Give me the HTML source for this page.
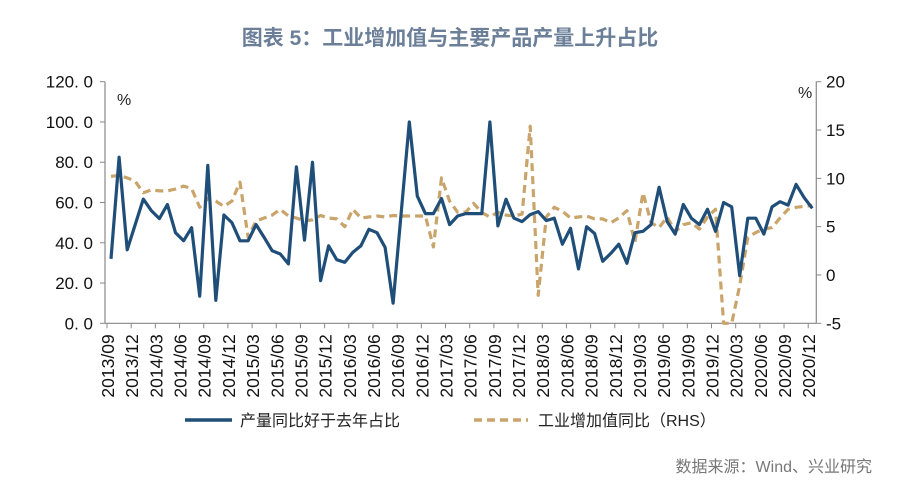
<!DOCTYPE html>
<html><head><meta charset="utf-8">
<style>
body{margin:0;background:#fff;width:900px;height:488px;overflow:hidden;font-family:"Liberation Sans","Noto Sans CJK SC",sans-serif;}
svg text{font-family:"Liberation Sans","Noto Sans CJK SC",sans-serif;}
</style></head>
<body>
<svg id="chart" width="900" height="488" viewBox="0 0 900 488" xmlns="http://www.w3.org/2000/svg">
<text x="450" y="45" text-anchor="middle" font-size="21" font-weight="bold" fill="#6b7f98">图表 5：工业增加值与主要产品产量上升占比</text>
<text x="117" y="105" font-size="16" fill="#222">%</text>
<text x="798" y="98" font-size="16" fill="#222">%</text>
<g id="axes"></g>
<g id="series"></g>
<g>
<line x1="185" y1="420" x2="232" y2="420" stroke="#1f4e79" stroke-width="3.5"/>
<text x="240" y="426" font-size="16" fill="#222">产量同比好于去年占比</text>
<line x1="474" y1="420" x2="528" y2="420" stroke="#c9a46b" stroke-width="3.5" stroke-dasharray="8,5"/>
<text x="538" y="426" font-size="16" fill="#222">工业增加值同比（RHS）</text>
</g>
<text x="872" y="472" text-anchor="end" font-size="16" fill="#777">数据来源：Wind、兴业研究</text>
</svg>
<script>
const blueValues=[32,82.5,36.5,49,61.7,56,52,59,45,41,47.5,13.5,78.5,11.4,53.8,50,41,41,49,42.6,36,34.4,29.5,77.7,41.3,80,21.2,38.5,31.6,30.3,35.2,38.5,46.7,45,37.7,10,55,100,63.2,54.5,54.5,62,49,53.3,54.5,54.5,54.5,100,48.4,61.6,52.2,50.5,54,55.5,51,52.2,39.3,47.2,27,48,44.6,30.8,34.7,39.3,29.8,45,45.7,49,67.6,50.5,44.3,59,52.2,49,56.6,45.7,60,57.8,23.7,52.2,52.2,44.3,57.8,60.4,58.7,69,62.4,57.1];
const orangeValues=[10.2,10.3,10.05,9.7,8.5,8.8,8.7,8.7,8.9,9.2,8.95,7.0,7.9,7.65,7.1,7.65,9.6,3.9,5.6,5.9,6.2,6.8,6.1,5.9,5.6,5.7,6.15,5.9,5.8,5.0,6.8,5.9,6.0,6.1,6.0,6.15,6.1,6.1,6.1,6.1,2.9,10.05,7.65,6.5,6.5,7.4,6.45,6.0,6.5,6.2,6.1,6.3,15.4,-2.1,6.0,7.0,6.6,5.9,6.0,6.1,5.8,5.8,5.4,5.9,6.65,3.4,8.5,5.4,4.9,6.0,4.5,5.2,5.4,4.75,6.0,6.8,-5,-5,-1.1,3.9,4.4,4.75,4.9,5.9,6.8,7.0,7.1,7.2];
const leftTicks=[0,20,40,60,80,100,120];
const leftTickLabels=["0. 0","20. 0","40. 0","60. 0","80. 0","100. 0","120. 0"];
const rightTicks=[-5,0,5,10,15,20];
const startYear=2013,startMonth=9;
const X0=107,STEP=8.06,Y0=323.3,YT=81.7;
const n=blueValues.length;
function xPos(i){return X0+STEP*(i+0.5);}
function yL(v){return Y0-(v-0)/(120-0)*(Y0-YT);}
function yR(v){return Y0-(v+5)/(25)*(Y0-YT);}
const NS="http://www.w3.org/2000/svg";
function mk(tag,attrs,parent){const e=document.createElementNS(NS,tag);for(const k in attrs)e.setAttribute(k,attrs[k]);parent.appendChild(e);return e;}
const axes=document.getElementById('axes');
const XR=X0+STEP*n;
let a=mk('line',{x1:X0-2,y1:YT,x2:X0-2,y2:Y0,stroke:'#888','stroke-width':1.2},axes);


a=mk('line',{x1:XR,y1:YT,x2:XR,y2:Y0,stroke:'#888','stroke-width':1.2},axes);


a=mk('line',{x1:X0-2,y1:Y0,x2:XR,y2:Y0,stroke:'#888','stroke-width':1.2},axes);


leftTicks.forEach((v,k)=>{const y=yL(v);
 mk('line',{x1:X0-7,y1:y,x2:X0-2,y2:y,stroke:'#888'},axes);
 const t=mk('text',{x:93,y:y+6,'text-anchor':'end','font-size':17,fill:'#111'},axes);t.textContent=leftTickLabels[k];
 
 });
rightTicks.forEach(v=>{const y=yR(v);
 mk('line',{x1:XR,y1:y,x2:XR+5,y2:y,stroke:'#888'},axes);
 const t=mk('text',{x:826,y:y+6,'font-size':17,fill:'#111'},axes);t.textContent=String(v);
 
 });
for(let i=0;i<n;i+=3){const x=X0+STEP*i;
 mk('line',{x1:x,y1:Y0,x2:x,y2:Y0+5,stroke:'#888'},axes);
 let m=startMonth-1+i;const yr=startYear+Math.floor(m/12);const mo=(m%12)+1;
 const lbl=yr+'/'+(mo<10?'0':'')+mo;
 const t=mk('text',{x:0,y:0,'text-anchor':'end','font-size':17.5,fill:'#111',transform:`translate(${x+7},${Y0+11}) rotate(-90)`},axes);t.textContent=lbl;
 
 }
const ser=document.getElementById('series');
const ptsO=orangeValues.map((v,i)=>xPos(i).toFixed(1)+','+yR(v).toFixed(1)).join(' ');
let p=mk('polyline',{points:ptsO,fill:'none',stroke:'#c9a46b','stroke-width':3.2,'stroke-dasharray':'8,5','stroke-linejoin':'round'},ser);


const ptsB=blueValues.map((v,i)=>xPos(i).toFixed(1)+','+yL(v).toFixed(1)).join(' ');
p=mk('polyline',{points:ptsB,fill:'none',stroke:'#1f4e79','stroke-width':3.2,'stroke-linejoin':'round'},ser);


</script>
</body></html>
